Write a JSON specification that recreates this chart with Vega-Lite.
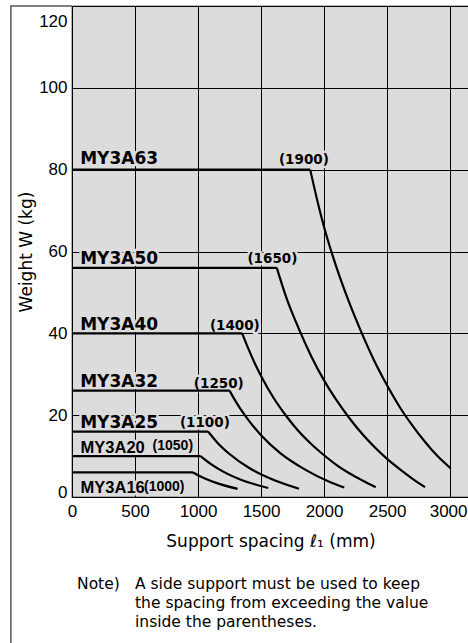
{
  "$schema": "https://vega.github.io/schema/vega-lite/v6.json",
  "width": 397,
  "height": 491,
  "autosize": {"type": "none"},
  "padding": {"left": 72, "top": 6, "right": 0, "bottom": 146},
  "background": "white",
  "config": {
    "view": {"fill": "#dcdcdc", "stroke": "#000", "strokeWidth": 1.2},
    "axis": {
      "labelFont": "Liberation Sans",
      "labelFontSize": 17,
      "labelColor": "#000",
      "titleFont": "DejaVu Sans",
      "titleFontSize": 17,
      "titleFontWeight": "normal",
      "titleColor": "#000",
      "ticks": false,
      "domain": false,
      "grid": true,
      "gridColor": "#000",
      "gridWidth": 1,
      "gridOpacity": 1,
      "labelOverlap": false,
      "labelFlush": false
    }
  },
  "datasets": {
    "frame": [
      {"order": 1, "L": -485, "W": -45},
      {"order": 2, "L": -485, "W": 120},
      {"order": 3, "L": 0, "W": 120}
    ],
    "flat": [
      {"series": "MY3A63", "L": 0, "W": 80}, {"series": "MY3A63", "L": 1890, "W": 80},
      {"series": "MY3A50", "L": 0, "W": 56}, {"series": "MY3A50", "L": 1625, "W": 56},
      {"series": "MY3A40", "L": 0, "W": 40}, {"series": "MY3A40", "L": 1350, "W": 40},
      {"series": "MY3A32", "L": 0, "W": 26}, {"series": "MY3A32", "L": 1250, "W": 26},
      {"series": "MY3A25", "L": 0, "W": 16}, {"series": "MY3A25", "L": 1080, "W": 16},
      {"series": "MY3A20", "L": 0, "W": 10}, {"series": "MY3A20", "L": 1020, "W": 10},
      {"series": "MY3A16", "L": 0, "W": 6}, {"series": "MY3A16", "L": 960, "W": 6}
    ],
    "curve": [
      {"series": "MY3A63", "L": 1890, "W": 80},
      {"series": "MY3A63", "L": 1950, "W": 72},
      {"series": "MY3A63", "L": 2000, "W": 66},
      {"series": "MY3A63", "L": 2100, "W": 56},
      {"series": "MY3A63", "L": 2200, "W": 47.5},
      {"series": "MY3A63", "L": 2300, "W": 40},
      {"series": "MY3A63", "L": 2400, "W": 33.2},
      {"series": "MY3A63", "L": 2500, "W": 27.3},
      {"series": "MY3A63", "L": 2600, "W": 22},
      {"series": "MY3A63", "L": 2700, "W": 17.5},
      {"series": "MY3A63", "L": 2800, "W": 13.5},
      {"series": "MY3A63", "L": 2900, "W": 10},
      {"series": "MY3A63", "L": 3005, "W": 7},
      {"series": "MY3A50", "L": 1625, "W": 56},
      {"series": "MY3A50", "L": 1700, "W": 48.8},
      {"series": "MY3A50", "L": 1800, "W": 41.1},
      {"series": "MY3A50", "L": 1900, "W": 34.3},
      {"series": "MY3A50", "L": 2000, "W": 28.5},
      {"series": "MY3A50", "L": 2100, "W": 23.6},
      {"series": "MY3A50", "L": 2200, "W": 19.3},
      {"series": "MY3A50", "L": 2300, "W": 15.5},
      {"series": "MY3A50", "L": 2400, "W": 12.2},
      {"series": "MY3A50", "L": 2500, "W": 9.3},
      {"series": "MY3A50", "L": 2600, "W": 6.8},
      {"series": "MY3A50", "L": 2700, "W": 4.5},
      {"series": "MY3A50", "L": 2801, "W": 2.4},
      {"series": "MY3A40", "L": 1350, "W": 40},
      {"series": "MY3A40", "L": 1400, "W": 36.2},
      {"series": "MY3A40", "L": 1450, "W": 32.7},
      {"series": "MY3A40", "L": 1500, "W": 29.6},
      {"series": "MY3A40", "L": 1600, "W": 24.2},
      {"series": "MY3A40", "L": 1700, "W": 19.8},
      {"series": "MY3A40", "L": 1800, "W": 16},
      {"series": "MY3A40", "L": 1900, "W": 12.9},
      {"series": "MY3A40", "L": 2000, "W": 10.2},
      {"series": "MY3A40", "L": 2100, "W": 7.8},
      {"series": "MY3A40", "L": 2200, "W": 5.8},
      {"series": "MY3A40", "L": 2300, "W": 4.1},
      {"series": "MY3A40", "L": 2410, "W": 2.4},
      {"series": "MY3A32", "L": 1250, "W": 26},
      {"series": "MY3A32", "L": 1300, "W": 23.3},
      {"series": "MY3A32", "L": 1350, "W": 20.9},
      {"series": "MY3A32", "L": 1400, "W": 18.8},
      {"series": "MY3A32", "L": 1500, "W": 15.1},
      {"series": "MY3A32", "L": 1650, "W": 10.8},
      {"series": "MY3A32", "L": 1850, "W": 6.7},
      {"series": "MY3A32", "L": 2050, "W": 3.6},
      {"series": "MY3A32", "L": 2160, "W": 2.3},
      {"series": "MY3A25", "L": 1080, "W": 16},
      {"series": "MY3A25", "L": 1150, "W": 13.4},
      {"series": "MY3A25", "L": 1250, "W": 10.5},
      {"series": "MY3A25", "L": 1400, "W": 7.2},
      {"series": "MY3A25", "L": 1550, "W": 4.8},
      {"series": "MY3A25", "L": 1801, "W": 2},
      {"series": "MY3A20", "L": 1020, "W": 10},
      {"series": "MY3A20", "L": 1100, "W": 8.1},
      {"series": "MY3A20", "L": 1200, "W": 6.2},
      {"series": "MY3A20", "L": 1350, "W": 4.1},
      {"series": "MY3A20", "L": 1557, "W": 2.2},
      {"series": "MY3A16", "L": 960, "W": 6},
      {"series": "MY3A16", "L": 1050, "W": 4.6},
      {"series": "MY3A16", "L": 1150, "W": 3.4},
      {"series": "MY3A16", "L": 1314, "W": 2}
    ],
    "names": [
      {"text": "MY3A63", "L": 65, "W": 81.4, "grp": "a"},
      {"text": "MY3A50", "L": 65, "W": 56.9, "grp": "a"},
      {"text": "MY3A40", "L": 65, "W": 40.8, "grp": "a"},
      {"text": "MY3A32", "L": 65, "W": 26.8, "grp": "a"},
      {"text": "MY3A25", "L": 65, "W": 16.8, "grp": "a"},
      {"text": "MY3A20", "L": 68, "W": 10.7, "grp": "b"},
      {"text": "MY3A16", "L": 68, "W": 1.0, "grp": "b"}
    ],
    "limits": [
      {"text": "(1900)", "L": 1840, "W": 81.4, "grp": "a"},
      {"text": "(1650)", "L": 1590, "W": 57.3, "grp": "a"},
      {"text": "(1400)", "L": 1292, "W": 40.8, "grp": "a"},
      {"text": "(1250)", "L": 1165, "W": 26.6, "grp": "a"},
      {"text": "(1100)", "L": 1054, "W": 17.2, "grp": "a"},
      {"text": "(1050)", "L": 800, "W": 11.5, "grp": "b"},
      {"text": "(1000)", "L": 732, "W": 1.4, "grp": "b"}
    ],
    "note": [
      {"text": ["Note)"], "L": 40, "W": -22.6},
      {"text": ["A side support must be used to keep", "the spacing from exceeding the value", "inside the parentheses."], "L": 500, "W": -22.6}
    ]
  },
  "encoding": {
    "x": {
      "field": "L",
      "type": "quantitative",
      "scale": {"domain": [0, 3150], "nice": false, "zero": true},
      "axis": {
        "values": [0, 500, 1000, 1500, 2000, 2500, 3000],
        "format": "d",
        "title": "Support spacing ℓ₁ (mm)",
        "labelPadding": 6,
        "titlePadding": 14,
        "labelOffset": {"condition": {"test": "datum.value === 3000", "value": -2}, "value": 0}
      }
    },
    "y": {
      "field": "W",
      "type": "quantitative",
      "scale": {"domain": [0, 120], "nice": false},
      "axis": {
        "values": [0, 20, 40, 60, 80, 100, 120],
        "title": "Weight W (kg)",
        "labelPadding": 5,
        "titlePadding": 3,
        "labelOffset": {"condition": {"test": "datum.value === 120", "value": 15}, "value": 0},
        "labelBaseline": {"condition": {"test": "datum.value === 0", "value": "alphabetic"}, "value": "middle"}
      }
    }
  },
  "layer": [
    {
      "data": {"name": "frame"},
      "mark": {"type": "line", "stroke": "#555", "strokeWidth": 1.5, "clip": false},
      "encoding": {"order": {"field": "order", "type": "quantitative"}}
    },
    {
      "data": {"name": "names"},
      "transform": [{"filter": "datum.grp === 'a'"}],
      "mark": {"type": "text", "align": "left", "baseline": "alphabetic", "font": "DejaVu Sans", "fontWeight": "bold", "fontSize": 17, "fill": "#dcdcdc", "stroke": "#dcdcdc", "strokeWidth": 5, "strokeJoin": "round"},
      "encoding": {"text": {"field": "text"}}
    },
    {
      "data": {"name": "names"},
      "transform": [{"filter": "datum.grp === 'b'"}],
      "mark": {"type": "text", "align": "left", "baseline": "alphabetic", "font": "Liberation Sans", "fontWeight": "bold", "fontSize": 16.5, "fill": "#dcdcdc", "stroke": "#dcdcdc", "strokeWidth": 5, "strokeJoin": "round"},
      "encoding": {"text": {"field": "text"}}
    },
    {
      "data": {"name": "limits"},
      "transform": [{"filter": "datum.grp === 'a'"}],
      "mark": {"type": "text", "align": "center", "baseline": "alphabetic", "font": "DejaVu Sans", "fontWeight": "bold", "fontSize": 13.5, "fill": "#dcdcdc", "stroke": "#dcdcdc", "strokeWidth": 5, "strokeJoin": "round"},
      "encoding": {"text": {"field": "text"}}
    },
    {
      "data": {"name": "limits"},
      "transform": [{"filter": "datum.grp === 'b'"}],
      "mark": {"type": "text", "align": "center", "baseline": "alphabetic", "font": "Liberation Sans", "fontWeight": "bold", "fontSize": 14, "fill": "#dcdcdc", "stroke": "#dcdcdc", "strokeWidth": 5, "strokeJoin": "round"},
      "encoding": {"text": {"field": "text"}}
    },
    {
      "data": {"name": "flat"},
      "mark": {"type": "line", "stroke": "#000", "strokeWidth": 2.2, "interpolate": "linear"},
      "encoding": {"detail": {"field": "series"}}
    },
    {
      "data": {"name": "curve"},
      "mark": {"type": "line", "stroke": "#000", "strokeWidth": 2.2, "interpolate": "monotone"},
      "encoding": {"detail": {"field": "series"}}
    },
    {
      "data": {"name": "names"},
      "transform": [{"filter": "datum.grp === 'a'"}],
      "mark": {"type": "text", "align": "left", "baseline": "alphabetic", "font": "DejaVu Sans", "fontWeight": "bold", "fontSize": 17, "fill": "#000"},
      "encoding": {"text": {"field": "text"}}
    },
    {
      "data": {"name": "names"},
      "transform": [{"filter": "datum.grp === 'b'"}],
      "mark": {"type": "text", "align": "left", "baseline": "alphabetic", "font": "Liberation Sans", "fontWeight": "bold", "fontSize": 16.5, "fill": "#000"},
      "encoding": {"text": {"field": "text"}}
    },
    {
      "data": {"name": "limits"},
      "transform": [{"filter": "datum.grp === 'a'"}],
      "mark": {"type": "text", "align": "center", "baseline": "alphabetic", "font": "DejaVu Sans", "fontWeight": "bold", "fontSize": 13.5, "fill": "#000"},
      "encoding": {"text": {"field": "text"}}
    },
    {
      "data": {"name": "limits"},
      "transform": [{"filter": "datum.grp === 'b'"}],
      "mark": {"type": "text", "align": "center", "baseline": "alphabetic", "font": "Liberation Sans", "fontWeight": "bold", "fontSize": 14, "fill": "#000"},
      "encoding": {"text": {"field": "text"}}
    },
    {
      "data": {"name": "note"},
      "mark": {"type": "text", "align": "left", "baseline": "alphabetic", "font": "DejaVu Sans", "fontSize": 15.5, "lineHeight": 18.8, "fill": "#000"},
      "encoding": {"text": {"field": "text"}}
    }
  ]
}
